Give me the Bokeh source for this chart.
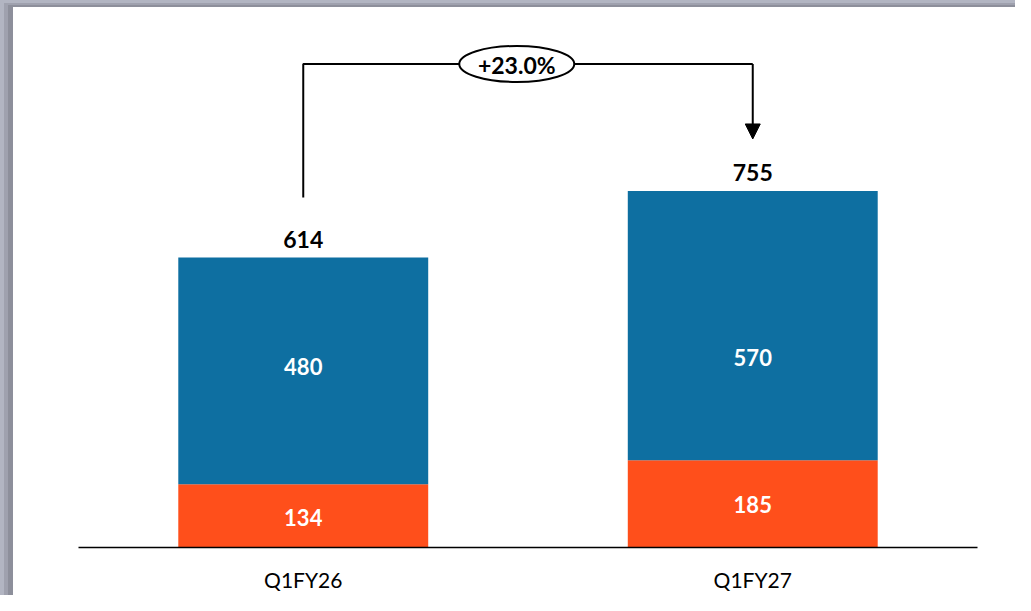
from bokeh.plotting import figure
from bokeh.models import Range1d, FixedTicker, Arrow, NormalHead
from bokeh.core.properties import value
from bokeh.embed import file_html
from bokeh.resources import INLINE

# ---- data ----
categories = ["Q1FY26", "Q1FY27"]
bottom_vals = [134, 185]
top_vals = [480, 570]
totals = [614, 755]
growth_label = "+23.0%"

# ---- style ----
BLUE = "#0E6FA1"
ORANGE = "#FF4F1B"
FONT = "Lato"
Y_MAX = 1116
FRAME_H = 527
PX = Y_MAX / FRAME_H  # data units per screen pixel

xs = [0.5 + i for i in range(len(categories))]

p = figure(width=1015, height=595, output_backend="svg", toolbar_location=None,
           x_range=Range1d(0, len(categories)), y_range=Range1d(0, Y_MAX),
           min_border_left=78, min_border_right=38, min_border_top=20,
           min_border_bottom=48)
p.outline_line_color = None
p.grid.visible = False
p.yaxis.visible = False
p.background_fill_color = "white"
p.border_fill_alpha = 0
p.styles = {"box-shadow": "inset 4px 3px 0 0 #b2b5c2, inset 8px 5px 0 0 #9fa1ae, "
                          "inset 13px 7px 0 0 #8d8f9b",
            "background-color": "white"}

# bars
p.vbar(x=xs, width=0.556, bottom=0, top=bottom_vals, fill_color=ORANGE, line_color=None)
p.vbar(x=xs, width=0.556, bottom=bottom_vals, top=totals, fill_color=BLUE, line_color=None)

# segment labels
seg_x = xs + xs
seg_y = [b / 2 for b in bottom_vals] + [b + t / 2 for b, t in zip(bottom_vals, top_vals)]
seg_txt = [str(v) for v in bottom_vals] + [str(v) for v in top_vals]
seg_off = [2, 1, -4, 32]
p.text(x=seg_x, y=seg_y, text=seg_txt, y_offset=seg_off, text_align="center",
       text_baseline="middle", text_color="white", text_font=value(FONT),
       text_font_style="bold", text_font_size="22px")

# totals
p.text(x=xs, y=totals, text=[str(v) for v in totals], y_offset=-18,
       text_align="center", text_baseline="alphabetic", text_color="black",
       text_font=value(FONT), text_font_style="bold", text_font_size="23px")

# growth bracket
y_br = totals[1] + 127 * PX
y_start = totals[0] + 60 * PX
y_tip = totals[1] + 52 * PX
p.line(x=[xs[0], xs[0], xs[1]], y=[y_start, y_br, y_br], line_color="black", line_width=2)
p.add_layout(Arrow(end=NormalHead(size=15, fill_color="black", line_color="black"),
                   x_start=xs[1], y_start=y_br, x_end=xs[1], y_end=y_tip,
                   line_color="black", line_width=2))
cx = (xs[0] + xs[1]) / 2 - 0.025
p.ellipse(x=[cx], y=[y_br], width=115, height=36, width_units="screen",
          height_units="screen", fill_color="white", line_color="black", line_width=2)
p.text(x=[cx], y=[y_br], text=[growth_label], y_offset=1, text_align="center",
       text_baseline="middle", text_color="black", text_font=value(FONT),
       text_font_style="bold", text_font_size="23px")

# axis
ax = p.xaxis[0]
ax.ticker = FixedTicker(ticks=xs)
ax.major_label_overrides = {x: c for x, c in zip(xs, categories)}
ax.axis_line_color = "black"
ax.axis_line_width = 1.5
ax.major_tick_line_color = None
ax.minor_tick_line_color = None
ax.major_tick_out = 0
ax.major_label_standoff = 19
ax.major_label_text_font = FONT
ax.major_label_text_font_size = "21px"
ax.major_label_text_color = "black"

open("out.html", "w").write(file_html(p, INLINE))
